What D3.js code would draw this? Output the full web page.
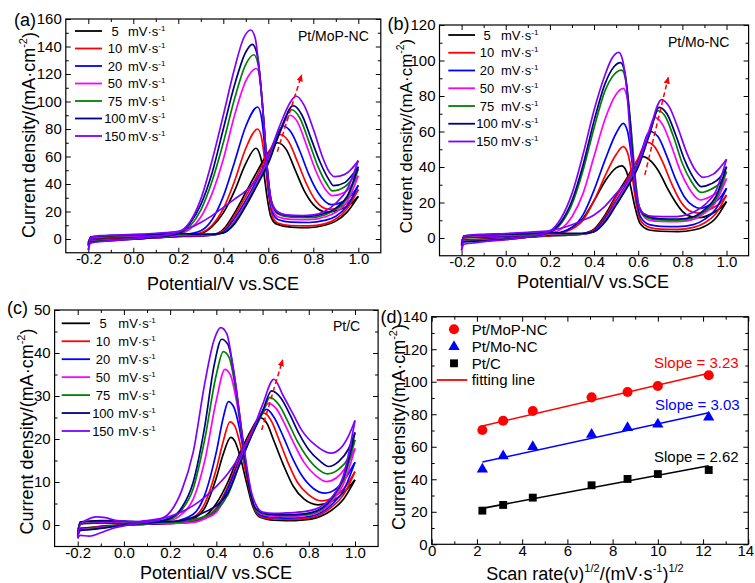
<!DOCTYPE html>
<html><head><meta charset="utf-8">
<script src="https://cdn.jsdelivr.net/npm/d3@7"></script>
<style>body{margin:0;background:#fff}svg{display:block}</style>
</head><body><svg id="c" width="755" height="583"></svg>
<script>
const FONT = '"Liberation Sans", Arial, Helvetica, sans-serif';
const scanRates = [5,10,20,50,75,100,150];
const rateColors = ["#000000","#ff0000","#0000ff","#ff00ff","#008000","#000080","#8000ff"];

// ---------- Panel (a) Pt/MoP-NC : [E (V), j (mA cm-2)] ----------
const aFwd = [
 [[-0.2,-2.5],[-0.19,0.2],[-0.1,0.8],[0,1],[0.1,1.3],[0.2,1.8],[0.3,2.3],[0.35,3],[0.4,7],[0.45,19],[0.5,34],[0.55,49],[0.6,63],[0.64,70],[0.68,65],[0.72,50],[0.76,35],[0.8,25],[0.86,19.5],[0.92,21.5],[0.97,26],[1.0,31]],
 [[-0.2,-3],[-0.19,0.5],[-0.1,1],[0,1.3],[0.1,1.6],[0.2,2],[0.3,2.3],[0.35,2.8],[0.4,6],[0.45,17],[0.5,31],[0.55,46],[0.6,62],[0.652,76],[0.69,71],[0.73,56],[0.77,40],[0.81,28],[0.87,21.5],[0.93,24],[0.97,29],[1.0,36]],
 [[-0.2,-3.5],[-0.19,0.8],[-0.1,1.3],[0,1.6],[0.1,2],[0.2,2.5],[0.3,2.5],[0.35,2.8],[0.4,5],[0.45,15],[0.5,28],[0.55,43],[0.6,59],[0.667,82],[0.7,78],[0.74,64],[0.78,47],[0.82,34],[0.88,25],[0.94,28],[0.97,32],[1.0,39]],
 [[-0.2,-4],[-0.19,1],[-0.1,1.8],[0,2.2],[0.1,2.6],[0.2,3],[0.3,2.8],[0.35,3],[0.4,4.5],[0.45,13],[0.5,26],[0.55,41],[0.6,57],[0.65,77],[0.696,90],[0.73,85],[0.77,68],[0.81,50],[0.85,37],[0.885,31.5],[0.94,34],[0.97,39],[1.0,46]],
 [[-0.2,-4.5],[-0.19,1.3],[-0.1,2.2],[0,2.6],[0.1,3],[0.2,3.5],[0.3,3],[0.35,3.2],[0.4,4.5],[0.45,12],[0.5,25],[0.55,40],[0.6,56],[0.65,78],[0.704,94],[0.74,88],[0.78,71],[0.82,53],[0.86,40],[0.885,35],[0.94,38],[0.97,43],[1.0,51]],
 [[-0.2,-5],[-0.19,1.5],[-0.1,2.5],[0,3],[0.1,3.5],[0.2,4],[0.3,3.5],[0.35,3.5],[0.4,4.5],[0.45,11],[0.5,24],[0.55,39],[0.6,55],[0.65,77],[0.711,97],[0.75,90],[0.79,73],[0.83,56],[0.87,43],[0.89,38.8],[0.94,41],[0.97,46],[1.0,52.6]],
 [[-0.2,-8],[-0.19,1],[-0.15,2.4],[-0.1,2.8],[0,3.3],[0.1,4.2],[0.2,5.5],[0.25,8],[0.3,12],[0.35,17],[0.4,23],[0.45,29],[0.5,35],[0.55,44],[0.6,60],[0.65,82],[0.7,100],[0.723,104],[0.76,97],[0.8,80],[0.84,60],[0.87,49],[0.895,45.3],[0.94,47],[0.97,51],[1.0,57]]
];
const aBwd = [
 [[-0.2,-2.5],[-0.19,-1],[-0.1,-0.3],[0,0.3],[0.1,1],[0.2,1.8],[0.3,4],[0.35,9],[0.4,19],[0.45,35],[0.5,55],[0.545,66],[0.565,60],[0.58,48],[0.595,30],[0.61,17],[0.635,11],[0.7,8.7],[0.78,8.3],[0.85,10],[0.9,13],[0.95,19.5],[1.0,31]],
 [[-0.2,-3],[-0.19,-1.2],[-0.1,-0.4],[0,0.3],[0.1,1],[0.2,2],[0.3,4.5],[0.35,10],[0.4,22],[0.45,42],[0.5,66],[0.553,80],[0.572,72],[0.588,52],[0.603,30],[0.62,16],[0.645,11.5],[0.7,9.8],[0.78,9.5],[0.85,11],[0.9,14.5],[0.95,22],[1.0,36]],
 [[-0.2,-3.5],[-0.19,-1.5],[-0.1,-0.6],[0,0.2],[0.1,1],[0.2,2.5],[0.3,6],[0.35,14],[0.4,31],[0.45,56],[0.5,82],[0.553,96],[0.572,86],[0.588,60],[0.603,33],[0.62,19],[0.645,14],[0.7,12.3],[0.78,12],[0.85,13.5],[0.9,16.5],[0.95,24],[1.0,39]],
 [[-0.2,-4],[-0.19,-1.8],[-0.1,-0.8],[0,0],[0.1,1],[0.2,3],[0.25,7],[0.3,16],[0.35,33],[0.4,58],[0.45,90],[0.5,115],[0.548,124],[0.567,110],[0.583,78],[0.6,42],[0.618,22],[0.645,16],[0.7,14.3],[0.78,14],[0.85,16],[0.9,19.5],[0.95,27],[1.0,46]],
 [[-0.2,-4.5],[-0.19,-2],[-0.1,-1],[0,0],[0.1,1.2],[0.2,3.5],[0.25,9],[0.3,21],[0.35,42],[0.4,70],[0.45,102],[0.5,127],[0.536,134],[0.558,124],[0.578,90],[0.597,48],[0.615,26],[0.645,18],[0.7,15.8],[0.78,15.5],[0.85,17.5],[0.9,21.5],[0.95,29.5],[1.0,51]],
 [[-0.2,-5],[-0.19,-2.3],[-0.1,-1.2],[0,-0.2],[0.1,1.3],[0.2,4],[0.25,11],[0.3,25],[0.35,48],[0.4,80],[0.45,112],[0.5,136],[0.529,141.6],[0.553,132],[0.575,95],[0.595,52],[0.613,28],[0.643,19],[0.7,16.8],[0.78,16.5],[0.85,18.5],[0.9,22.5],[0.95,31],[1.0,52.6]],
 [[-0.2,-8],[-0.19,-3],[-0.15,-2],[-0.1,-1.2],[0,0],[0.1,1.8],[0.2,5],[0.25,12],[0.3,29],[0.35,57],[0.4,90],[0.45,124],[0.49,146],[0.522,152],[0.542,146],[0.557,127],[0.578,90],[0.595,52],[0.613,28],[0.64,20],[0.68,17.5],[0.75,17],[0.8,17.5],[0.85,20],[0.9,26],[0.95,36],[1.0,57]]
];

// ---------- Panel (b) Pt/Mo-NC ----------
const bFwd = [
 [[-0.2,-2],[-0.19,0],[-0.1,0.5],[0,0.8],[0.1,1],[0.2,1.3],[0.3,1.8],[0.35,2.5],[0.4,5],[0.45,13],[0.5,24],[0.55,34],[0.59,42.5],[0.62,45.8],[0.66,43],[0.7,36],[0.73,28.5],[0.77,20],[0.8,15],[0.84,12],[0.88,11.5],[0.93,13.5],[0.97,16.5],[1.0,20.5]],
 [[-0.2,-2.5],[-0.19,0.2],[-0.1,0.7],[0,1],[0.1,1.2],[0.2,1.5],[0.3,1.8],[0.35,2.3],[0.4,4.5],[0.45,12],[0.5,23],[0.55,33],[0.6,45],[0.638,54],[0.67,52],[0.71,43],[0.75,31],[0.79,21],[0.83,15.5],[0.87,14],[0.93,16.5],[0.97,19.5],[1.0,24.2]],
 [[-0.2,-3],[-0.19,0.5],[-0.1,1],[0,1.2],[0.1,1.5],[0.2,1.8],[0.3,1.8],[0.35,2.2],[0.4,4],[0.45,11],[0.5,21],[0.55,31],[0.6,43],[0.653,60],[0.69,57],[0.73,46],[0.77,33],[0.81,23],[0.85,18],[0.88,16.7],[0.93,19],[0.97,22.5],[1.0,28]],
 [[-0.2,-3.5],[-0.19,0.8],[-0.1,1.3],[0,1.6],[0.1,1.9],[0.2,2.2],[0.3,2],[0.35,2.2],[0.4,3.5],[0.45,10],[0.5,20],[0.55,30],[0.6,42],[0.64,57],[0.675,68],[0.71,64],[0.75,52],[0.79,38],[0.83,28],[0.86,23],[0.88,21.4],[0.93,23.5],[0.97,27],[1.0,33.5]],
 [[-0.2,-4],[-0.19,1],[-0.1,1.5],[0,1.9],[0.1,2.2],[0.2,2.6],[0.3,2.3],[0.35,2.4],[0.4,3.5],[0.45,9.5],[0.5,19],[0.55,29],[0.6,41],[0.65,58],[0.69,71.7],[0.72,69],[0.76,57],[0.8,42],[0.84,32],[0.885,25.7],[0.93,27.5],[0.97,31],[1.0,37.4]],
 [[-0.2,-4.5],[-0.19,1.2],[-0.1,1.8],[0,2.2],[0.1,2.5],[0.2,3],[0.3,2.6],[0.35,2.6],[0.4,3.5],[0.45,9],[0.5,18.5],[0.55,28.5],[0.6,40],[0.65,58],[0.695,73.6],[0.73,70],[0.77,58],[0.81,44],[0.85,34],[0.887,28.9],[0.93,30.5],[0.97,34],[1.0,40.2]],
 [[-0.2,-7],[-0.19,1],[-0.15,1.8],[-0.1,2.1],[0,2.5],[0.1,3.2],[0.2,4.2],[0.25,5.5],[0.3,7.5],[0.35,10],[0.4,13],[0.45,18],[0.5,25],[0.55,32],[0.6,42],[0.65,60],[0.706,78],[0.74,74],[0.78,62],[0.82,48],[0.86,38],[0.894,34.2],[0.94,36],[0.97,39.5],[1.0,44.3]]
];
const bBwd = [
 [[-0.2,-2],[-0.19,-1.2],[-0.1,-0.6],[0,-0.2],[0.1,0.5],[0.2,1.3],[0.3,6],[0.35,11],[0.4,21],[0.45,32],[0.5,39.5],[0.525,40.6],[0.545,38],[0.562,31],[0.585,17.6],[0.608,8.3],[0.65,4.5],[0.7,3.8],[0.78,3.6],[0.85,4.5],[0.9,6.5],[0.95,11],[1.0,20.5]],
 [[-0.2,-2.5],[-0.19,-1.4],[-0.1,-0.8],[0,-0.3],[0.1,0.5],[0.2,1.5],[0.3,5],[0.35,10],[0.4,21],[0.45,35],[0.5,47],[0.532,51.5],[0.552,48],[0.57,37],[0.59,20],[0.61,10],[0.65,6],[0.7,5],[0.78,4.9],[0.85,6],[0.9,8.5],[0.95,13.5],[1.0,24.2]],
 [[-0.2,-3],[-0.19,-1.6],[-0.1,-1],[0,-0.4],[0.1,0.5],[0.2,2],[0.3,6],[0.35,13],[0.4,27],[0.45,44],[0.5,59],[0.532,64.6],[0.552,60],[0.57,45],[0.59,24],[0.61,12],[0.65,7.5],[0.7,6.6],[0.78,6.4],[0.85,7.5],[0.9,10.5],[0.95,16],[1.0,28]],
 [[-0.2,-3.5],[-0.19,-1.8],[-0.1,-1.2],[0,-0.5],[0.1,0.5],[0.2,2.5],[0.25,5],[0.3,12],[0.35,25],[0.4,46],[0.45,67],[0.5,81],[0.532,84.3],[0.552,78],[0.57,58],[0.59,30],[0.61,15],[0.65,10],[0.7,9.3],[0.78,9.2],[0.85,10.5],[0.9,14],[0.95,20],[1.0,33.5]],
 [[-0.2,-4],[-0.19,-2],[-0.1,-1.4],[0,-0.6],[0.1,0.6],[0.2,3],[0.25,8],[0.3,19],[0.35,38],[0.4,62],[0.45,83],[0.49,92],[0.525,94.6],[0.545,88],[0.565,65],[0.585,35],[0.605,17],[0.64,11.5],[0.7,10.2],[0.78,10.1],[0.85,11.5],[0.9,15],[0.95,21.5],[1.0,37.4]],
 [[-0.2,-4.5],[-0.19,-2.2],[-0.1,-1.6],[0,-0.8],[0.1,0.6],[0.2,3.5],[0.25,9],[0.3,21],[0.35,41],[0.4,66],[0.45,87],[0.49,96.5],[0.52,98.8],[0.54,93],[0.56,70],[0.58,38],[0.6,19],[0.635,12.5],[0.7,10.8],[0.78,10.7],[0.85,12],[0.9,16],[0.95,23],[1.0,40.2]],
 [[-0.2,-7],[-0.19,-3.5],[-0.15,-2.8],[-0.1,-2],[0,-1],[0.1,0.8],[0.2,4],[0.25,11],[0.3,25],[0.35,47],[0.4,72],[0.45,92],[0.48,101],[0.512,104.6],[0.53,100],[0.547,85],[0.57,47.7],[0.593,23.3],[0.622,14],[0.668,12.2],[0.75,12],[0.8,12.5],[0.85,14.5],[0.9,18.5],[0.95,26],[1.0,44.3]]
];

// ---------- Panel (c) Pt/C ----------
const cFwd = [
 [[-0.2,-1.5],[-0.19,0.2],[-0.15,0.4],[-0.1,0.5],[0,0.4],[0.1,0.3],[0.2,0.4],[0.3,0.8],[0.35,2],[0.4,5],[0.45,10],[0.5,16.5],[0.55,22],[0.589,25],[0.62,23.5],[0.646,20],[0.69,14],[0.733,9],[0.78,6],[0.84,4.7],[0.9,5.5],[0.95,7.5],[1.0,10.5]],
 [[-0.2,-1.8],[-0.19,0.3],[-0.15,0.5],[-0.1,0.6],[0,0.5],[0.1,0.4],[0.2,0.4],[0.3,0.8],[0.35,1.8],[0.4,4],[0.45,9],[0.5,15.5],[0.55,21.5],[0.606,26],[0.64,24],[0.67,20],[0.71,14.5],[0.75,10],[0.8,7],[0.855,5.6],[0.91,6.5],[0.96,9],[1.0,12.4]],
 [[-0.2,-2],[-0.19,0.4],[-0.15,0.6],[-0.1,0.7],[0,0.6],[0.1,0.4],[0.2,0.4],[0.3,0.7],[0.35,1.5],[0.4,3.5],[0.45,8.5],[0.5,15],[0.55,21],[0.59,25.5],[0.618,26.9],[0.65,25],[0.69,20.5],[0.73,15.5],[0.77,11.5],[0.82,8.5],[0.87,7.4],[0.92,8.5],[0.96,11],[1.0,14.6]],
 [[-0.2,-2.2],[-0.19,0.5],[-0.15,0.7],[-0.1,0.8],[0,0.7],[0.1,0.5],[0.2,0.4],[0.3,0.6],[0.35,1.5],[0.4,3],[0.45,7.5],[0.5,14.5],[0.55,21],[0.6,26.5],[0.625,28.3],[0.66,27],[0.7,23],[0.74,18.5],[0.78,14.5],[0.83,11.5],[0.875,10.1],[0.92,11],[0.96,13.5],[1.0,17.8]],
 [[-0.2,-2.5],[-0.19,0.6],[-0.15,0.8],[-0.1,0.9],[0,0.8],[0.1,0.6],[0.2,0.6],[0.3,1.2],[0.35,2],[0.4,3.5],[0.45,7],[0.5,14],[0.55,20.5],[0.6,26],[0.632,29.7],[0.67,28],[0.71,24],[0.75,19.5],[0.79,16],[0.84,13],[0.88,11.9],[0.93,13],[0.97,15.5],[1.0,19.8]],
 [[-0.2,-2.7],[-0.19,0.7],[-0.15,0.9],[-0.1,1],[0,0.9],[0.1,0.7],[0.2,0.8],[0.25,1],[0.3,1.8],[0.35,3],[0.4,4.5],[0.45,7.5],[0.5,14],[0.55,20.5],[0.6,26.5],[0.639,31.2],[0.68,29.5],[0.72,25.5],[0.76,21],[0.8,17.5],[0.85,14.8],[0.885,13.6],[0.93,14.8],[0.97,17.5],[1.0,21.5]],
 [[-0.2,-3.1],[-0.19,0],[-0.16,1.2],[-0.12,1.9],[-0.08,1.7],[-0.03,1],[0.05,0.8],[0.1,1],[0.2,2],[0.3,4.5],[0.35,6.5],[0.4,9],[0.45,12],[0.5,16],[0.55,21],[0.6,28],[0.649,33.9],[0.69,30],[0.73,26],[0.77,22],[0.83,18.5],[0.895,16.7],[0.94,18],[0.97,20.5],[1.0,24.3]]
];
const cBwd = [
 [[-0.2,-1.5],[-0.19,-0.8],[-0.15,-0.6],[-0.1,-0.3],[0,0],[0.1,0.2],[0.2,0.5],[0.3,1.5],[0.35,4],[0.4,11],[0.43,16.5],[0.462,20.4],[0.48,19.5],[0.5,16.5],[0.53,10],[0.56,4],[0.59,1.8],[0.65,1.1],[0.7,1],[0.78,1.2],[0.85,2],[0.9,3.5],[0.95,6],[1.0,10.5]],
 [[-0.2,-1.8],[-0.19,-0.9],[-0.15,-0.7],[-0.1,-0.4],[0,0],[0.1,0.2],[0.2,0.5],[0.3,1.8],[0.35,5],[0.4,13],[0.43,19.5],[0.459,24],[0.48,23],[0.5,19.5],[0.53,11.5],[0.56,4.5],[0.59,2],[0.65,1.4],[0.7,1.3],[0.78,1.5],[0.85,2.4],[0.9,4.2],[0.95,7],[1.0,12.4]],
 [[-0.2,-2],[-0.19,-1],[-0.15,-0.8],[-0.1,-0.5],[0,0],[0.1,0.2],[0.2,0.6],[0.3,2.5],[0.35,7],[0.4,17],[0.43,25],[0.452,28.7],[0.475,27.5],[0.5,22.5],[0.53,13],[0.56,5],[0.59,2.3],[0.65,1.7],[0.7,1.6],[0.78,1.8],[0.85,2.8],[0.9,4.8],[0.95,8],[1.0,14.6]],
 [[-0.2,-2.2],[-0.19,-1.1],[-0.15,-0.9],[-0.1,-0.6],[0,0],[0.1,0.3],[0.2,1],[0.25,2.5],[0.3,6],[0.35,15],[0.4,29],[0.437,36.2],[0.46,35],[0.49,28],[0.52,17],[0.55,7],[0.58,3],[0.62,2.2],[0.7,2],[0.78,2.2],[0.85,3.2],[0.9,5.5],[0.95,9.5],[1.0,17.8]],
 [[-0.2,-2.5],[-0.19,-1.2],[-0.15,-1],[-0.1,-0.7],[0,0],[0.1,0.3],[0.2,1.3],[0.25,3.5],[0.3,8.5],[0.35,20],[0.4,35],[0.43,40.3],[0.455,39],[0.485,31],[0.515,19],[0.545,8],[0.575,3.3],[0.62,2.4],[0.7,2.2],[0.78,2.4],[0.85,3.5],[0.9,6],[0.95,10.5],[1.0,19.8]],
 [[-0.2,-2.7],[-0.19,-1.3],[-0.15,-1.1],[-0.1,-0.8],[0,0],[0.1,0.4],[0.2,1.6],[0.25,4],[0.3,10],[0.35,23],[0.39,37],[0.423,43.2],[0.45,42],[0.48,34],[0.51,21.5],[0.54,9.5],[0.57,3.8],[0.62,2.6],[0.7,2.4],[0.78,2.6],[0.85,3.7],[0.9,6.3],[0.95,11],[1.0,21.5]],
 [[-0.2,-3.1],[-0.19,-2.4],[-0.15,-2.6],[-0.1,-1.8],[-0.05,-0.8],[0,-0.2],[0.1,0.7],[0.15,1.2],[0.2,3],[0.25,8],[0.3,17],[0.35,33],[0.39,43],[0.419,45.9],[0.445,44.5],[0.47,37.5],[0.5,26],[0.525,16],[0.55,8],[0.575,4.3],[0.6,3],[0.65,2.7],[0.7,2.8],[0.78,3.1],[0.85,4.2],[0.9,6.5],[0.95,11.5],[1.0,24.3]]
];

// red dashed trend arrows [start, tip]
const aArrow = [[0.64,63.5],[0.748,119.3]];
const bArrow = [[0.63,35.5],[0.736,90.5]];
const cArrow = [[0.596,22.1],[0.687,38.4]];

// ---------- Panel (d) ----------
const dX = [2.24,3.16,4.47,7.07,8.66,10,12.25];
const dMoP = [70.3,76,82,90.4,93.7,97.4,104];
const dMoNC = [46.1,54.3,60,67.6,71.7,73.8,78.1];
const dPtC = [20.7,24.2,28.7,36.3,40.2,43.2,45.7];
const fitMoP = [[2.24,72.8],[12.25,105.2]];
const fitMoNC = [[2.24,50.6],[12.25,80.9]];
const fitPtC = [[2.24,22.1],[12.25,48.3]];
const slopeLabels = ["Slope = 3.23","Slope = 3.03","Slope = 2.62"];
const dLegend = ["Pt/MoP-NC","Pt/Mo-NC","Pt/C","fitting line"];

// ticks
const cvXTicks = [-0.2,0,0.2,0.4,0.6,0.8,1.0];
const cvXMinor = [-0.1,0.1,0.3,0.5,0.7,0.9];
const aYTicks = [0,20,40,60,80,100,120,140,160];
const aYMinor = [10,30,50,70,90,110,130,150];
const bYTicks = [0,20,40,60,80,100,120];
const bYMinor = [10,30,50,70,90,110];
const cYTicks = [0,10,20,30,40,50];
const cYMinor = [5,15,25,35,45];
const dXTicks = [0,2,4,6,8,10,12,14];
const dXMinor = [1,3,5,7,9,11,13];
const dYTicks = [0,20,40,60,80,100,120,140];
const dYMinor = [10,30,50,70,90,110,130];

const svg = d3.select("#c");
const defs = svg.append("defs");
defs.append("marker").attr("id","arr").attr("viewBox","0 0 10 10").attr("refX",9).attr("refY",5)
  .attr("markerWidth",7).attr("markerHeight",7).attr("markerUnits","userSpaceOnUse").attr("orient","auto")
  .append("path").attr("d","M0,0.5L10,5L0,9.5z").attr("fill","#ff0000");

function styleAxis(s){ s.select(".domain").remove(); s.attr("font-size",15).attr("font-family",FONT);
  s.selectAll("line").attr("stroke","#000").attr("stroke-width",1); s.selectAll("text").attr("fill","#000"); }

function frame(cfg){
  const g = svg.append("g");
  const x = d3.scaleLinear().domain(cfg.xd).range([cfg.l,cfg.r]);
  const y = d3.scaleLinear().domain(cfg.yd).range([cfg.b,cfg.t]);
  const fx = cfg.xfmt, fy = d => String(d);
  g.append("g").attr("transform",`translate(0,${cfg.b})`).call(d3.axisBottom(x).tickValues(cfg.xm).tickSize(-3).tickFormat("")).call(styleAxis);
  const xb = g.append("g").attr("transform",`translate(0,${cfg.b})`).call(d3.axisBottom(x).tickValues(cfg.xt).tickSize(-5).tickPadding(1).tickFormat(fx)).call(styleAxis);
  g.append("g").attr("transform",`translate(0,${cfg.t})`).call(d3.axisTop(x).tickValues(cfg.xm).tickSize(-3).tickFormat("")).call(styleAxis);
  g.append("g").attr("transform",`translate(0,${cfg.t})`).call(d3.axisTop(x).tickValues(cfg.xt).tickSize(-5).tickFormat("")).call(styleAxis);
  g.append("g").attr("transform",`translate(${cfg.l},0)`).call(d3.axisLeft(y).tickValues(cfg.ym).tickSize(-3).tickFormat("")).call(styleAxis);
  g.append("g").attr("transform",`translate(${cfg.l},0)`).call(d3.axisLeft(y).tickValues(cfg.yt).tickSize(-5).tickPadding(4).tickFormat(fy)).call(styleAxis);
  g.append("g").attr("transform",`translate(${cfg.r},0)`).call(d3.axisRight(y).tickValues(cfg.ym).tickSize(-3).tickFormat("")).call(styleAxis);
  g.append("g").attr("transform",`translate(${cfg.r},0)`).call(d3.axisRight(y).tickValues(cfg.yt).tickSize(-5).tickFormat("")).call(styleAxis);
  g.append("rect").attr("x",cfg.l).attr("y",cfg.t).attr("width",cfg.r-cfg.l).attr("height",cfg.b-cfg.t)
    .attr("fill","none").attr("stroke","#000").attr("stroke-width",1.2);
  return {g,x,y,xb};
}

function yTitle(cx, cy, size){
  const fs = size || 18;
  const t = svg.append("text").attr("transform",`translate(${cx},${cy}) rotate(-90)`)
    .attr("text-anchor","middle").attr("font-family",FONT).attr("font-size",fs).attr("fill","#000");
  t.append("tspan").text("Current density/(mA·cm");
  t.append("tspan").attr("font-size",fs*0.61).attr("dy",-fs*0.44).text("-2");
  t.append("tspan").attr("dy",fs*0.44).text(")");
}
function txt(x,y,s,size,anchor,color){
  return svg.append("text").attr("x",x).attr("y",y).attr("font-family",FONT).attr("font-size",size)
    .attr("text-anchor",anchor||"start").attr("fill",color||"#000").text(s);
}

function cvPanel(cfg, fwd, bwd, arrow){
  const {g,x,y} = frame(cfg);
  const line = d3.line().x(d=>x(d[0])).y(d=>y(d[1])).curve(d3.curveMonotoneX);
  scanRates.forEach((r,i)=>{
    [fwd[i], bwd[i]].forEach(arr=>{
      g.append("path").attr("d",line(arr)).attr("fill","none").attr("stroke",rateColors[i])
        .attr("stroke-width",1.7).attr("stroke-linejoin","round");
    });
  });
  g.append("line").attr("x1",x(arrow[0][0])).attr("y1",y(arrow[0][1])).attr("x2",x(arrow[1][0])).attr("y2",y(arrow[1][1]))
    .attr("stroke","#ff0000").attr("stroke-width",1.5).attr("stroke-dasharray","5,3").attr("marker-end","url(#arr)");
  // legend
  const lg = cfg.leg;
  scanRates.forEach((r,i)=>{
    const yy = lg.y0 + i*lg.dy;
    svg.append("line").attr("x1",lg.x1).attr("x2",lg.x2).attr("y1",yy).attr("y2",yy)
      .attr("stroke",rateColors[i]).attr("stroke-width",1.8);
    txt(lg.nx, yy+4.5, String(r), 13, "middle");
    const t = txt(lg.mx, yy+4.5, "mV·s", 13, "start");
    t.append("tspan").attr("font-size",8).attr("dy",-5).text("-1");
  });
  txt(cfg.name[0], cfg.name[1], cfg.name[2], 14, "start");
  txt(cfg.lab[0], cfg.lab[1], cfg.lab[2], 18, "start");
  yTitle(cfg.yt0[0], cfg.yt0[1], cfg.yt0[2]);
  txt(cfg.xt0[0], cfg.xt0[1], "Potential/V vs.SCE", 18, "middle");
}

const fmt1 = d => d.toFixed(1);
cvPanel({l:65.8,r:380.8,t:19,b:252.75,xd:[-0.3,1.1],yd:[-10,160],xt:cvXTicks,xm:cvXMinor,yt:aYTicks,ym:aYMinor,xfmt:fmt1,
  leg:{x1:75,x2:102,nx:115,mx:128,y0:31,dy:17.5}, name:[298,40.7,"Pt/MoP-NC"], lab:[14,26,"(a)"], yt0:[35,135,18], xt0:[223,290]},
  aFwd, aBwd, aArrow);
cvPanel({l:439.5,r:748.6,t:25,b:255.75,xd:[-0.3,1.1],yd:[-10,120],xt:cvXTicks,xm:cvXMinor,yt:bYTicks,ym:bYMinor,xfmt:fmt1,
  leg:{x1:448.3,x2:475,nx:487,mx:501,y0:35,dy:17.75}, name:[668,46.5,"Pt/Mo-NC"], lab:[387.5,29.5,"(b)"], yt0:[411.5,136,17], xt0:[593,288]},
  bFwd, bBwd, bArrow);
cvPanel({l:54.6,r:378.1,t:310,b:546.5,xd:[-0.3,1.1],yd:[-5,50],xt:cvXTicks,xm:cvXMinor,yt:cYTicks,ym:cYMinor,xfmt:fmt1,
  leg:{x1:61.7,x2:90,nx:103,mx:118.3,y0:323.3,dy:17.95}, name:[333,330.7,"Pt/C"], lab:[7,314,"(c)"], yt0:[33,431.5,18], xt0:[216,578.8]},
  cFwd, cBwd, cArrow);

// panel (d)
(function(){
  const cfg = {l:431.7,r:748.3,t:316.7,b:544.3,xd:[0,14],yd:[0,140],xt:dXTicks,xm:dXMinor,yt:dYTicks,ym:dYMinor,xfmt:d=>String(d)};
  const {g,x,y,xb} = frame(cfg);
  xb.selectAll(".tick text").filter(d=>d===14).attr("dx",-3);
  const line = d3.line().x(d=>x(d[0])).y(d=>y(d[1]));
  [[fitMoP,"#ff0000"],[fitMoNC,"#0000ff"],[fitPtC,"#000000"]].forEach(([f,c])=>{
    g.append("path").attr("d",line(f)).attr("stroke",c).attr("stroke-width",1.6).attr("fill","none");
  });
  const sym = [[dMoP,"#ff0000",d3.symbolCircle,80],[dMoNC,"#0000ff",d3.symbolTriangle,55],[dPtC,"#000000",d3.symbolSquare,62]];
  sym.forEach(([vals,c,s,sz])=>{
    g.selectAll(null).data(vals).enter().append("path")
      .attr("transform",(v,i)=>`translate(${x(dX[i])},${y(v)})`)
      .attr("d",d3.symbol().type(s).size(sz)).attr("fill",c);
  });
  // legend
  const ly = [329.3,346.7,363.3];
  sym.forEach(([vals,c,s,sz],i)=>{
    svg.append("path").attr("transform",`translate(454,${ly[i]})`).attr("d",d3.symbol().type(s).size(sz)).attr("fill",c);
    txt(471.7, ly[i]+5.2, dLegend[i], 15, "start");
  });
  svg.append("line").attr("x1",436.7).attr("x2",467.3).attr("y1",380).attr("y2",380).attr("stroke","#ff0000").attr("stroke-width",1.8);
  txt(471.7, 385.2, dLegend[3], 15, "start");
  txt(654, 368, slopeLabels[0], 15, "start", "#ff0000");
  txt(655, 409.5, slopeLabels[1], 15, "start", "#0000ff");
  txt(654, 461.7, slopeLabels[2], 15, "start", "#000000");
  txt(380.5, 323, "(d)", 18, "start");
  yTitle(405, 427, 18);
  const t = svg.append("text").attr("x",585).attr("y",579.5).attr("text-anchor","middle")
    .attr("font-family",FONT).attr("font-size",18).attr("fill","#000");
  t.append("tspan").text("Scan rate(ν)");
  t.append("tspan").attr("font-size",11).attr("dy",-8).text("1/2");
  t.append("tspan").attr("dy",8).text("/(mV·s");
  t.append("tspan").attr("font-size",11).attr("dy",-8).text("-1");
  t.append("tspan").attr("dy",8).text(")");
  t.append("tspan").attr("font-size",11).attr("dy",-8).text("1/2");
})();
</script></body></html>
